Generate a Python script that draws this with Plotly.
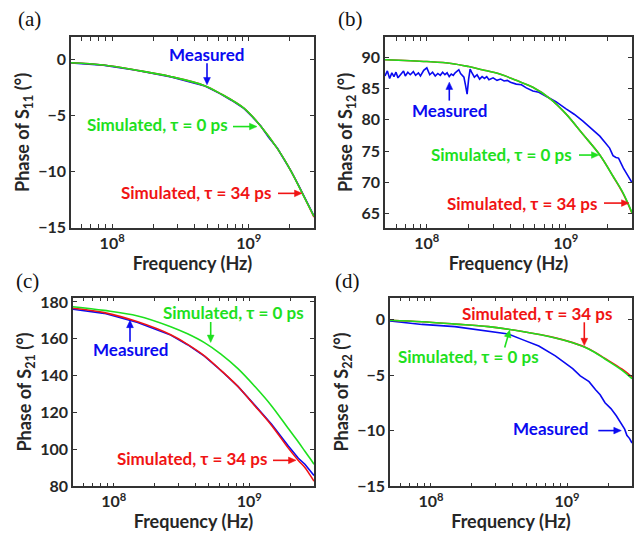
import math
import plotly.graph_objects as go

# ---------------- data ----------------
# Panel (a): Phase of S11
a_meas_f = [5.0e7, 8.6e7, 1.5e8, 2.7e8, 4.7e8, 6.2e8, 7.5e8, 9.2e8, 1.05e9, 1.22e9, 1.4e9, 1.62e9, 1.8e9, 2.04e9, 2.3e9, 2.55e9, 2.8e9, 3.0e9]
a_meas_v = [-0.30, -0.50, -0.96, -1.55, -2.33, -3.06, -3.65, -4.36, -5.05, -5.90, -6.95, -7.92, -8.85, -9.95, -11.15, -12.25, -13.25, -13.95]
a_sim_f = [5.0e7, 8.6e7, 1.5e8, 2.7e8, 4.7e8, 6.2e8, 9.2e8, 1.22e9, 1.62e9, 2.04e9, 2.55e9, 3.0e9]
a_sim0_v = [-0.29, -0.49, -0.95, -1.53, -2.31, -3.04, -4.34, -5.93, -7.95, -9.97, -12.3, -14.0]
a_sim34_v = [-0.29, -0.49, -0.95, -1.53, -2.31, -3.04, -4.34, -5.93, -7.95, -9.97, -12.3, -14.05]

# Panel (b): Phase of S12
b_meas_f = [5.0e7, 5.2e7, 5.4e7, 5.6e7, 5.8e7, 6.0e7, 6.2e7, 6.5e7, 6.8e7, 7.0e7, 7.3e7, 7.6e7, 8.0e7, 8.3e7,
            8.7e7, 9.0e7, 9.5e7, 1.0e8, 1.05e8, 1.1e8, 1.15e8, 1.2e8, 1.25e8, 1.3e8, 1.35e8, 1.4e8, 1.45e8,
            1.5e8, 1.55e8, 1.6e8, 1.65e8, 1.7e8, 1.75e8, 1.8e8, 1.85e8, 1.9e8, 1.95e8, 2.0e8, 2.05e8, 2.1e8,
            2.2e8, 2.3e8, 2.4e8, 2.5e8, 2.6e8, 2.7e8, 2.8e8, 3.0e8, 3.2e8, 3.4e8, 3.6e8, 3.8e8, 4.0e8, 4.4e8,
            4.8e8, 5.2e8, 5.8e8, 6.4e8, 7.0e8, 7.7e8, 8.5e8, 1.0e9, 1.15e9, 1.33e9, 1.5e9, 1.76e9, 1.9e9,
            2.07e9, 2.19e9, 2.3e9, 2.4e9, 2.5e9, 2.6e9, 2.8e9, 3.0e9]
b_meas_v = [87.0, 87.8, 86.6, 87.5, 86.9, 87.6, 86.7, 87.3, 87.8, 87.0, 87.6, 87.2, 87.7, 87.1,
            87.5, 87.0, 87.9, 88.3, 87.2, 87.6, 87.0, 87.4, 87.1, 87.6, 87.2, 87.5, 86.9,
            87.3, 87.1, 87.5, 87.8, 88.0, 87.4, 87.0, 86.8, 85.5, 84.1, 86.5, 88.1, 87.6,
            86.8, 87.2, 86.5, 86.9, 86.6, 86.9, 86.4, 86.7, 86.3, 86.5, 86.2, 86.3, 86.0, 85.7,
            85.6, 85.1, 84.6, 84.4, 83.9, 83.4, 82.9, 81.8, 80.9, 79.8, 78.8, 77.4, 76.5,
            75.5, 74.3, 74.0, 73.9, 73.0, 72.3, 71.1, 70.0]
b_sim_f = [5.0e7, 1.0e8, 1.5e8, 2.0e8, 2.5e8, 3.35e8, 4.4e8, 5.8e8, 7.7e8, 1.0e9, 1.33e9, 1.76e9, 2.19e9, 2.58e9, 3.0e9]
b_sim0_v = [89.6, 89.3, 89.0, 88.5, 88.0, 87.3, 86.3, 85.2, 83.4, 81.0, 77.7, 74.4, 71.0, 68.4, 65.2]
b_sim34_v = [89.6, 89.3, 89.0, 88.5, 88.0, 87.3, 86.3, 85.2, 83.4, 81.0, 77.7, 74.4, 71.0, 68.3, 65.1]

# Panel (c): Phase of S21
c_f = [5.0e7, 8.5e7, 1.5e8, 2.63e8, 3.5e8, 4.66e8, 6.17e8, 8.24e8, 1.1e9, 1.46e9, 1.94e9, 2.3e9, 2.57e9, 2.8e9, 3.0e9]
c_meas_v = [176.0, 173.8, 168.8, 162.0, 156.8, 150.6, 142.8, 134.2, 123.9, 113.6, 101.8, 95.2, 92.0, 88.5, 85.8]
c_sim0_v = [177.4, 175.4, 172.4, 166.6, 162.7, 157.9, 151.7, 143.8, 134.1, 123.6, 111.3, 104.0, 99.0, 95.2, 92.0]
c_sim34_v = [176.6, 174.2, 169.2, 162.2, 157.0, 150.8, 142.9, 134.1, 123.6, 113.0, 100.7, 94.0, 90.2, 86.2, 82.8]

# Panel (d): Phase of S22
d_meas_f = [5.0e7, 8.6e7, 1.5e8, 2.65e8, 3.7e8, 4.7e8, 6.2e8, 8.2e8, 9.5e8, 1.1e9, 1.25e9, 1.45e9, 1.62e9, 1.75e9,
            1.9e9, 2.1e9, 2.3e9, 2.54e9, 2.65e9, 2.75e9, 2.88e9, 3.0e9]
d_meas_v = [-0.10, -0.41, -0.61, -0.99, -1.28, -1.78, -2.36, -3.24, -3.80, -4.40, -5.05, -5.57, -6.30, -6.75,
            -7.47, -8.00, -8.64, -9.51, -9.85, -10.40, -10.70, -11.10]
d_sim_f = [5.0e7, 8.6e7, 1.5e8, 2.65e8, 4.7e8, 8.2e8, 1.1e9, 1.45e9, 1.9e9, 2.54e9, 3.0e9]
d_sim0_v = [-0.03, -0.17, -0.38, -0.61, -1.05, -1.63, -2.07, -2.65, -3.53, -4.55, -5.30]
d_sim34_v = [-0.03, -0.17, -0.38, -0.61, -1.05, -1.62, -2.05, -2.62, -3.48, -4.45, -5.15]

x_tickvals = [6e7, 7e7, 8e7, 9e7, 1e8, 2e8, 3e8, 4e8, 5e8, 6e8, 7e8, 8e8, 9e8, 1e9, 2e9]
x_ticktext = ["", "", "", "", "10<sup>8</sup>", "", "", "", "", "", "", "", "", "10<sup>9</sup>", ""]

BLUE = "#0A0AF0"
GREEN = "#1EE01E"
RED = "#F01414"
FONT = "Lato"
AX = "#333333"
TXT = "#262626"

fig = go.Figure()

panels = [
    ("x", "y", a_meas_f, a_meas_v, a_sim_f, a_sim34_v, a_sim_f, a_sim0_v),
    ("x2", "y2", b_meas_f, b_meas_v, b_sim_f, b_sim34_v, b_sim_f, b_sim0_v),
    ("x3", "y3", c_f, c_meas_v, c_f, c_sim34_v, c_f, c_sim0_v),
    ("x4", "y4", d_meas_f, d_meas_v, d_sim_f, d_sim34_v, d_sim_f, d_sim0_v),
]
for xa, ya, mf, mv, rf, rv, gf, gv in panels:
    fig.add_trace(go.Scatter(x=mf, y=mv, mode="lines", xaxis=xa, yaxis=ya,
                             line=dict(color=BLUE, width=1.6), name="Measured", showlegend=False))
    fig.add_trace(go.Scatter(x=rf, y=rv, mode="lines", xaxis=xa, yaxis=ya, line_shape="spline",
                             line=dict(color=RED, width=1.6), name="Simulated, τ = 34 ps", showlegend=False))
    fig.add_trace(go.Scatter(x=gf, y=gv, mode="lines", xaxis=xa, yaxis=ya, line_shape="spline",
                             line=dict(color=GREEN, width=1.6), name="Simulated, τ = 0 ps", showlegend=False))

W, H = 644, 541


def px(x):
    return x / W


def py(y):
    return 1 - y / H


def xaxis(domain, anchor):
    return dict(domain=domain, anchor=anchor, type="log", range=[7.69897, 9.4771],
                tickmode="array", tickvals=x_tickvals, ticktext=x_ticktext,
                ticks="inside", ticklen=4, tickwidth=1.2, tickcolor=AX,
                showline=True, linecolor=AX, linewidth=1.5, mirror="ticks",
                showgrid=False, zeroline=False,
                tickfont=dict(family=FONT, size=16, color=TXT, weight="bold"),
                title=dict(text="Frequency (Hz)", standoff=0,
                           font=dict(family=FONT, size=18, color=TXT, weight="bold")))


def yaxis(domain, anchor, rng, dtick, title):
    return dict(domain=domain, anchor=anchor, range=rng, dtick=dtick, ticks="inside", ticklen=4,
                tickwidth=1.2, tickcolor=AX, showline=True, linecolor=AX, linewidth=1.5, mirror="ticks",
                showgrid=False, zeroline=False,
                tickfont=dict(family=FONT, size=16, color=TXT, weight="bold"),
                title=dict(text=title, standoff=4,
                           font=dict(family=FONT, size=18, color=TXT, weight="bold")))


top = [py(228), py(32)]
bot = [py(494), py(300)]

fig.update_layout(
    width=W, height=H, margin=dict(l=0, r=0, t=0, b=0),
    paper_bgcolor="white", plot_bgcolor="white", showlegend=False,
    xaxis=xaxis([px(71), px(314)], "y"),
    xaxis2=xaxis([px(385), px(632)], "y2"),
    xaxis3=xaxis([px(73), px(314)], "y3"),
    xaxis4=xaxis([px(390), px(632)], "y4"),
    yaxis=yaxis(top, "x", [-15, 2], 5, "Phase of S<sub>11</sub> (°)"),
    yaxis2=yaxis(top, "x2", [62.8, 93.2], 5, "Phase of S<sub>12</sub> (°)"),
    yaxis3=yaxis(bot, "x3", [80, 182.3], 20, "Phase of S<sub>21</sub> (°)"),
    yaxis4=yaxis(bot, "x4", [-15, 2], 5, "Phase of S<sub>22</sub> (°)"),
)

ann = []
# text labels: (text, x, y, color, xanchor)
labels = [
    ("Measured", 206.7, 50, BLUE, "center"),
    ("Simulated, τ = 0 ps", 230, 121.7, GREEN, "right"),
    ("Simulated, τ = 34 ps", 273.3, 191.7, RED, "right"),
    ("Measured", 449.5, 107.3, BLUE, "center"),
    ("Simulated, τ = 0 ps", 573.7, 152.3, GREEN, "right"),
    ("Simulated, τ = 34 ps", 598.7, 202.7, RED, "right"),
    ("Simulated, τ = 0 ps", 233.8, 315, GREEN, "center"),
    ("Measured", 130.8, 353.3, BLUE, "center"),
    ("Simulated, τ = 34 ps", 269.3, 465, RED, "right"),
    ("Simulated, τ = 34 ps", 537, 316.7, RED, "center"),
    ("Simulated, τ = 0 ps", 468, 360, GREEN, "center"),
    ("Measured", 590.3, 435, BLUE, "right"),
]
for t, x, y, c, xa in labels:
    ann.append(dict(text=t, x=px(x), y=py(y), xref="paper", yref="paper", showarrow=False,
                    xanchor=xa, yanchor="middle",
                    font=dict(family=FONT, size=17, color=c, weight="bold")))

for t, x, y in [("(a)", 29, 13), ("(b)", 351, 13), ("(c)", 27.5, 282.5), ("(d)", 347, 282.5)]:
    ann.append(dict(text=t, x=px(x), y=py(y), xref="paper", yref="paper", showarrow=False,
                    xanchor="center", yanchor="middle",
                    font=dict(family="Liberation Serif", size=21, color="#111111")))

# pointer arrows drawn as shapes: (head x, head y, tail dx, tail dy, color) in pixels
arrows = [
    (207, 81, 0, -22, BLUE),
    (257, 124, -24, 0, GREEN),
    (302, 192.7, -24, 0, RED),
    (449.3, 78.3, 0, 19, BLUE),
    (599, 153.3, -20, 0, GREEN),
    (629, 202.7, -25, 0, RED),
    (210.7, 346, 0, -21, GREEN),
    (130, 323.3, 0, 22, BLUE),
    (296, 467.3, -23, 0, RED),
    (584.3, 349.3, 0, -24, RED),
    (509.7, 333.3, -5, 18, GREEN),
    (621.3, 436.7, -23, 0, BLUE),
]
shapes = []
HEAD_L, HEAD_W = 7.5, 3.4
for hx, hy, dx, dy, c in arrows:
    tx, ty = hx + dx, hy + dy
    n = math.hypot(dx, dy)
    ux, uy = -dx / n, -dy / n
    bx, by = hx - ux * HEAD_L, hy - uy * HEAD_L
    pxp, pyp = -uy, ux
    shapes.append(dict(type="line", xref="paper", yref="paper",
                       x0=px(tx), y0=py(ty), x1=px(bx + ux * 1), y1=py(by + uy * 1),
                       line=dict(color=c, width=1.6)))
    p1 = (bx + pxp * HEAD_W, by + pyp * HEAD_W)
    p2 = (bx - pxp * HEAD_W, by - pyp * HEAD_W)
    path = "M {:.5f} {:.5f} L {:.5f} {:.5f} L {:.5f} {:.5f} Z".format(
        px(hx), py(hy), px(p1[0]), py(p1[1]), px(p2[0]), py(p2[1]))
    shapes.append(dict(type="path", xref="paper", yref="paper", path=path,
                       fillcolor=c, line=dict(color=c, width=0.5)))

fig.update_layout(annotations=ann, shapes=shapes)
fig.write_html("out.html")
